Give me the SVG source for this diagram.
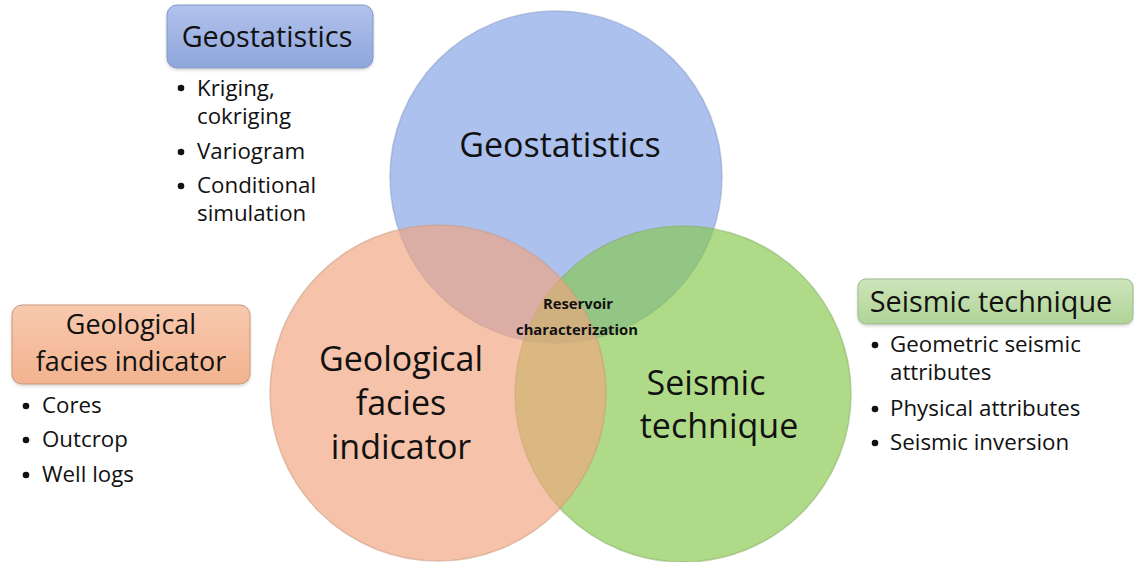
<svg xmlns="http://www.w3.org/2000/svg" width="1134" height="562" viewBox="0 0 1134 562">
  <defs>
    <linearGradient id="gBlueBox" x1="0" y1="0" x2="0" y2="1">
      <stop offset="0" stop-color="#B1C2EC"/>
      <stop offset="1" stop-color="#8FA6DB"/>
    </linearGradient>
    <linearGradient id="gOrangeBox" x1="0" y1="0" x2="0" y2="1">
      <stop offset="0" stop-color="#F8C9AE"/>
      <stop offset="1" stop-color="#F2B38F"/>
    </linearGradient>
    <linearGradient id="gGreenBox" x1="0" y1="0" x2="0" y2="1">
      <stop offset="0" stop-color="#CDE5BA"/>
      <stop offset="1" stop-color="#B0D398"/>
    </linearGradient>
    <filter id="soft" x="-10%" y="-10%" width="120%" height="130%">
      <feDropShadow dx="0" dy="1.5" stdDeviation="1.5" flood-color="#000" flood-opacity="0.18"/>
    </filter>
  </defs>
  <style>
    text { font-family: "Open Sans", "Noto Sans", "Liberation Sans", sans-serif; fill: #111; }
    .title { font-size: 28.8px; text-anchor: middle; }
    .title2 { font-size: 27px; text-anchor: middle; }
    .item { font-size: 22.3px; }
    .big { font-size: 34px; text-anchor: middle; }
    .core { font-size: 14.8px; font-weight: bold; text-anchor: middle; }
    .circle { fill-opacity: 0.66; stroke-opacity: 0.55; stroke-width: 1.5; }
  </style>

  <rect width="1134" height="562" fill="#FFFFFF"/>

  <!-- Venn circles -->
  <g id="circle-geostatistics">
    <circle class="circle" cx="556" cy="177" r="166" fill="#83A1E6" stroke="#8A9CC4"/>
  </g>
  <g id="circle-seismic">
    <circle class="circle" cx="683" cy="394" r="168" fill="#86C94C" stroke="#86AE66"/>
  </g>
  <g id="circle-geological">
    <circle class="circle" cx="438" cy="393" r="168" fill="#F1A47E" stroke="#C99A82"/>
  </g>

  <!-- circle labels -->
  <g id="labels">
    <text class="big" x="560" y="157">Geostatistics</text>
    <text class="big" x="401" y="371">Geological</text>
    <text class="big" x="401" y="415">facies</text>
    <text class="big" x="401" y="459">indicator</text>
    <text class="big" x="706" y="395">Seismic</text>
    <text class="big" x="719" y="438">technique</text>
    <text class="core" x="578" y="309">Reservoir</text>
    <text class="core" x="577" y="335">characterization</text>
  </g>

  <!-- Geostatistics legend -->
  <g id="legend-geostatistics">
    <rect x="167" y="5" width="206" height="63" rx="10" fill="url(#gBlueBox)" stroke="#8597C2" stroke-width="1" filter="url(#soft)"/>
    <text class="title" x="267" y="47">Geostatistics</text>
    <circle cx="181" cy="88" r="3.3" fill="#111"/>
    <text class="item" x="197" y="96">Kriging,</text>
    <text class="item" x="197" y="124">cokriging</text>
    <circle cx="181" cy="152" r="3.3" fill="#111"/>
    <text class="item" x="197" y="159">Variogram</text>
    <circle cx="181" cy="186" r="3.3" fill="#111"/>
    <text class="item" x="197" y="193">Conditional</text>
    <text class="item" x="197" y="221">simulation</text>
  </g>

  <!-- Geological facies legend -->
  <g id="legend-geological">
    <rect x="12" y="305" width="238" height="79" rx="10" fill="url(#gOrangeBox)" stroke="#C8977D" stroke-width="1" filter="url(#soft)"/>
    <text class="title2" x="131" y="334">Geological</text>
    <text class="title2" x="131" y="371">facies indicator</text>
    <circle cx="26" cy="406" r="3.3" fill="#111"/>
    <text class="item" x="42" y="413">Cores</text>
    <circle cx="26" cy="440" r="3.3" fill="#111"/>
    <text class="item" x="42" y="447">Outcrop</text>
    <circle cx="26" cy="475" r="3.3" fill="#111"/>
    <text class="item" x="42" y="482">Well logs</text>
  </g>

  <!-- Seismic technique legend -->
  <g id="legend-seismic">
    <rect x="858" y="279" width="275" height="45" rx="8" fill="url(#gGreenBox)" stroke="#9CB98B" stroke-width="1" filter="url(#soft)"/>
    <text class="title" x="991" y="312">Seismic technique</text>
    <circle cx="875" cy="345" r="3.3" fill="#111"/>
    <text class="item" x="890" y="352">Geometric seismic</text>
    <text class="item" x="890" y="380">attributes</text>
    <circle cx="875" cy="409" r="3.3" fill="#111"/>
    <text class="item" x="890" y="416">Physical attributes</text>
    <circle cx="875" cy="443" r="3.3" fill="#111"/>
    <text class="item" x="890" y="450">Seismic inversion</text>
  </g>
</svg>
